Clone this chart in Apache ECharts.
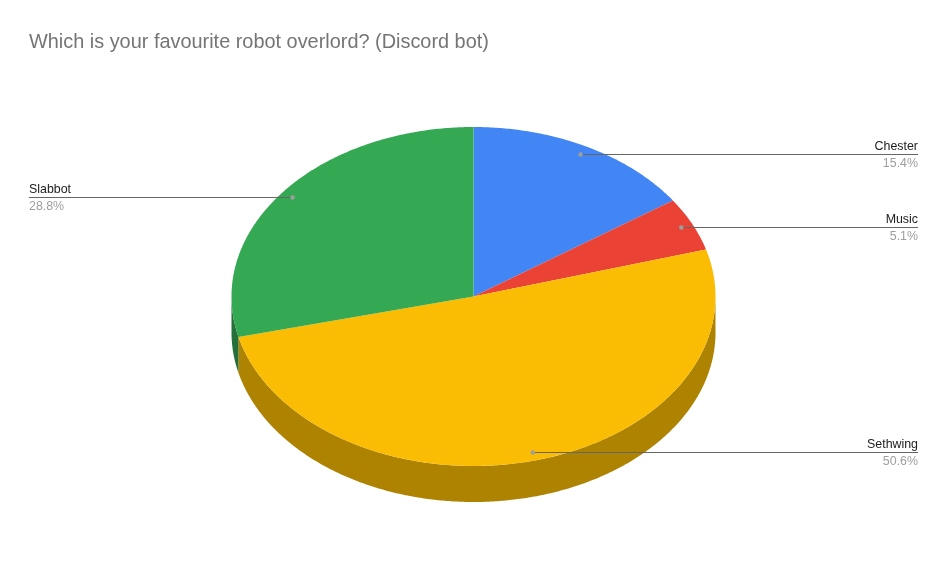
<!DOCTYPE html>
<html>
<head>
<meta charset="utf-8">
<style>html,body{margin:0;padding:0;background:#fff}#c{width:947px;height:586px}</style>
<script src="https://cdn.jsdelivr.net/npm/echarts@6/dist/echarts.min.js"></script>
</head>
<body>
<div id="c"></div>
<script>
const titleText = 'Which is your favourite robot overlord? (Discord bot)';
const categories = ['Chester', 'Music', 'Sethwing', 'Slabbot'];
const shares = [15.4, 5.1, 50.6, 28.8];
const topColors = ['#4285f4', '#ea4335', '#fbbc04', '#34a853'];
const wallColors = ['#2e5dab', '#a32f25', '#af8302', '#246f3a'];

const cx = 473.5, cy = 296.5, rx = 242, ry = 169.5, depth = 36;
const leaderFraction = 0.95, leftEdge = 29, rightEdge = 918;
const total = shares.reduce((a, b) => a + b, 0);
const DEG = Math.PI / 180;

function pt(deg, f, dy) {
  return [cx + rx * f * Math.sin(deg * DEG), cy - ry * f * Math.cos(deg * DEG) + (dy || 0)];
}
function arc(from, to, dy) {
  const out = [];
  const n = Math.max(2, Math.ceil((to - from) * 2));
  for (let i = 0; i <= n; i++) out.push(pt(from + (to - from) * i / n, 1, dy));
  return out;
}

function renderItem(params, api) {
  const i = params.dataIndex;
  const before = shares.slice(0, i).reduce((a, b) => a + b, 0);
  const v = api.value(0);
  const start = before / total * 360, end = (before + v) / total * 360, mid = (start + end) / 2;
  const children = [];

  const wFrom = Math.max(start, 90), wTo = Math.min(end, 270);
  if (wTo > wFrom) {
    children.push({
      type: 'polygon', z2: 1,
      shape: { points: arc(wFrom, wTo, 0).concat(arc(wFrom, wTo, depth).reverse()) },
      style: { fill: wallColors[i] }
    });
  }
  children.push({
    type: 'polygon', z2: 2,
    shape: { points: [[cx, cy]].concat(arc(start, end, 0)) },
    style: { fill: topColors[i] }
  });

  const d = pt(mid, leaderFraction, 0);
  const right = d[0] > cx;
  const ly = Math.floor(d[1] + 0.1) + 0.5;
  const edge = right ? rightEdge : leftEdge;
  children.push({
    type: 'line', z2: 3,
    shape: { x1: d[0], y1: ly, x2: edge, y2: ly },
    style: { stroke: '#666666', lineWidth: 1 }
  });
  children.push({
    type: 'circle', z2: 4,
    shape: { cx: d[0], cy: ly, r: 2.2 },
    style: { fill: '#9e9e9e' }
  });
  children.push({
    type: 'text', z2: 5, x: edge, y: ly - 8,
    style: { text: categories[i], font: '12.4px "Liberation Sans", Arial, sans-serif', fill: '#222222',
      textAlign: right ? 'right' : 'left', textVerticalAlign: 'middle' }
  });
  children.push({
    type: 'text', z2: 5, x: edge, y: ly + 9.5,
    style: { text: v.toFixed(1) + '%', font: '12.4px "Liberation Sans", Arial, sans-serif', fill: '#9e9e9e',
      textAlign: right ? 'right' : 'left', textVerticalAlign: 'middle' }
  });
  return { type: 'group', children };
}

const chart = echarts.init(document.getElementById('c'), null, { renderer: 'canvas' });
chart.setOption({
  animation: false,
  backgroundColor: '#ffffff',
  title: {
    text: titleText, left: 24, top: 28,
    textStyle: { fontFamily: '"Liberation Sans", Arial, sans-serif', fontSize: 19.9, fontWeight: 'normal', color: '#757575' }
  },
  series: [{
    type: 'custom',
    coordinateSystem: 'none',
    silent: true,
    renderItem,
    data: shares.map(v => [v])
  }]
});
</script>
</body>
</html>
